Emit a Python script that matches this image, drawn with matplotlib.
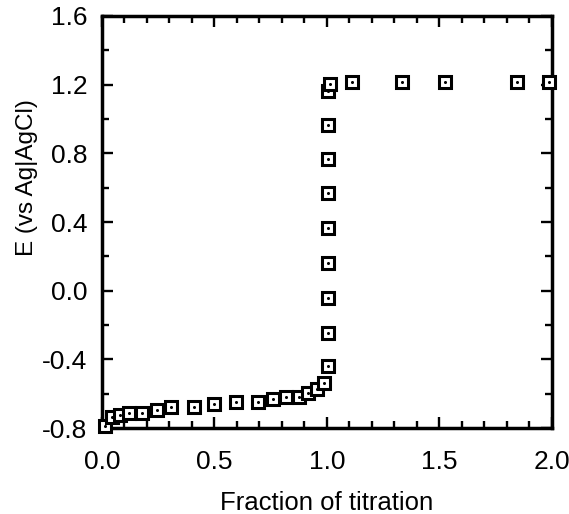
import matplotlib
matplotlib.use("Agg")
import matplotlib.pyplot as plt
from matplotlib.ticker import MultipleLocator, FormatStrFormatter

plt.rcParams["font.family"] = ["Liberation Sans", "DejaVu Sans"]

# fraction of titration vs potential (V vs Ag|AgCl)
fraction = [0.012, 0.047, 0.08, 0.12, 0.177, 0.243, 0.307, 0.41, 0.50, 0.597,
            0.693, 0.76, 0.82, 0.875, 0.917, 0.954, 0.987, 1.005,
            1.003, 1.003, 1.003, 1.003, 1.003, 1.003, 1.003, 1.003,
            1.013, 1.11, 1.333, 1.527, 1.847, 1.985]
potential = [-0.785, -0.737, -0.724, -0.71, -0.71, -0.693, -0.675, -0.675, -0.66, -0.646,
             -0.646, -0.63, -0.617, -0.617, -0.597, -0.574, -0.536, -0.438,
             -0.245, -0.044, 0.163, 0.363, 0.567, 0.767, 0.965, 1.165,
             1.204, 1.214, 1.214, 1.214, 1.214, 1.214]

fig = plt.figure(figsize=(5.69, 5.14), dpi=100)
ax = fig.add_axes([0.179, 0.167, 0.791, 0.802])

ax.plot(fraction, potential, linestyle="none", marker="s", markersize=8,
        markerfacecolor="white", markeredgecolor="black", markeredgewidth=2.2,
        clip_on=False, zorder=3)
ax.plot(fraction, potential, linestyle="none", marker="o", markersize=2.2,
        color="black", markeredgewidth=0, clip_on=False, zorder=4)

ax.set_xlim(0, 2.0)
ax.set_ylim(-0.8, 1.6)
ax.xaxis.set_major_locator(MultipleLocator(0.5))
ax.xaxis.set_minor_locator(MultipleLocator(0.1))
ax.yaxis.set_major_locator(MultipleLocator(0.4))
ax.yaxis.set_minor_locator(MultipleLocator(0.2))
ax.xaxis.set_major_formatter(FormatStrFormatter("%.1f"))
ax.yaxis.set_major_formatter(FormatStrFormatter("%.1f"))

ax.tick_params(which="both", direction="in", top=True, right=True, width=1.7,
               labelsize=19)
ax.tick_params(axis="x", which="major", pad=16)
ax.tick_params(axis="y", which="major", pad=10.5)
ax.tick_params(which="major", length=8)
ax.tick_params(which="minor", length=5)
for s in ax.spines.values():
    s.set_linewidth(2.5)

ax.set_xlabel("Fraction of titration", fontsize=18.5, labelpad=12)
ax.set_ylabel("E (vs Ag|AgCl)", fontsize=17.5)
ax.yaxis.set_label_coords(-0.142, 0.607)

fig.savefig("out.png", dpi=100)
plt.close(fig)
